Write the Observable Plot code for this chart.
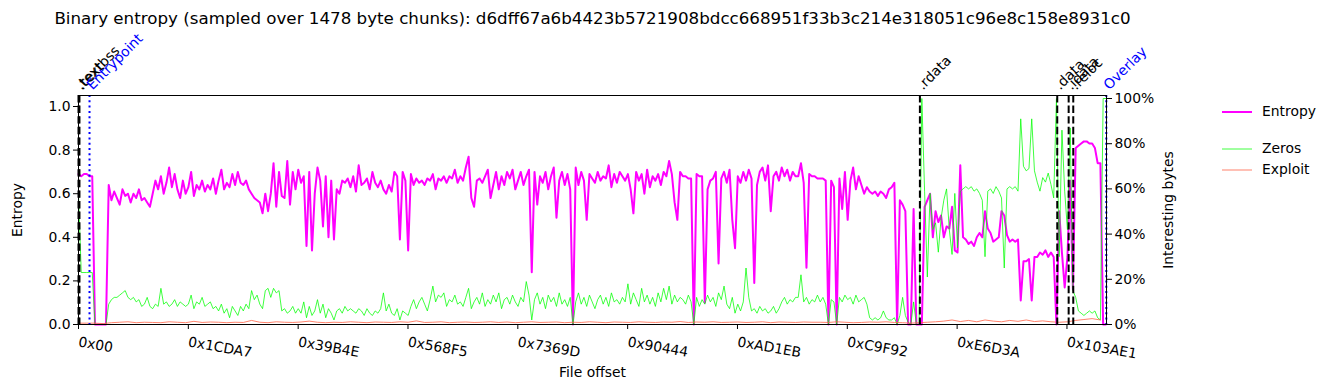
<!DOCTYPE html>
<html>
<head>
<meta charset="utf-8">
<script src="https://cdn.jsdelivr.net/npm/d3@7"></script>
<script src="https://cdn.jsdelivr.net/npm/@observablehq/plot@0.6"></script>
<style>
  body { margin: 0; background: white; font-family: "DejaVu Sans", sans-serif; }
  #wrap { position: relative; width: 1331px; height: 390px; }
  #legend { position: absolute; left: 1221px; top: 101px; font-size: 13.9px; color: #000; }
  #legend .row { position: absolute; left: 0; white-space: nowrap; height: 20px; line-height: 20px; }
  #legend svg { position: absolute; left: 0; top: 0; }
  #legend span { position: absolute; left: 41px; top: 0; }
</style>
</head>
<body>
<div id="wrap">
  <div id="chart"></div>
  <div id="legend"></div>
</div>
<script>
const titleText = "Binary entropy (sampled over 1478 byte chunks): d6dff67a6b4423b5721908bdcc668951f33b3c214e318051c96e8c158e8931c0";
const chunkSize = 1478;
const sampleStep = 2;      // one stored value every 2 chunks
const exploitStep = 6;     // one stored value every 6 chunks
const fileEnd = 1106200;

const xTickLabels = ["0x00","0x1CDA7","0x39B4E","0x568F5","0x7369D","0x90444","0xAD1EB","0xC9F92","0xE6D3A","0x103AE1"];
const leftTicks = [0, 0.2, 0.4, 0.6, 0.8, 1.0];
const rightTicks = [0, 20, 40, 60, 80, 100];

const sectionNames = [".textbss", ".text", ".rdata", ".data", ".idata", ".reloc"];
const sectionOffsets = [0, 1024, 905400, 1053200, 1065480, 1070430];
const markerNames = ["Entrypoint", "Overlay"];
const markerOffsets = [11850, 1106000];

const entropy = [
0.69,0.68,0.69,0.69,0.68,0.68,0,0,0,0,
0,0.64,0.57,0.61,0.58,0.55,0.62,0.59,0.60,0.56,
0.60,0.58,0.62,0.57,0.58,0.56,0.54,0.60,0.66,0.62,
0.68,0.60,0.65,0.72,0.63,0.69,0.62,0.58,0.66,0.60,
0.63,0.70,0.59,0.64,0.62,0.66,0.61,0.64,0.62,0.67,
0.60,0.66,0.71,0.62,0.65,0.63,0.69,0.64,0.70,0.65,
0.64,0.66,0.62,0.60,0.58,0.57,0.56,0.51,0.60,0.52,
0.60,0.74,0.54,0.70,0.59,0.58,0.75,0.55,0.70,0.62,
0.71,0.65,0.68,0.36,0.70,0.34,0.60,0.72,0.66,0.45,
0.68,0.40,0.66,0.39,0.62,0.60,0.66,0.65,0.67,0.63,
0.68,0.61,0.73,0.64,0.65,0.67,0.62,0.70,0.65,0.63,
0.66,0.62,0.60,0.64,0.61,0.70,0.68,0.39,0.70,0.66,
0.34,0.69,0.64,0.67,0.65,0.66,0.64,0.67,0.66,0.69,
0.62,0.67,0.66,0.68,0.65,0.68,0.67,0.71,0.65,0.68,
0.66,0.72,0.77,0.58,0.54,0.66,0.67,0.65,0.68,0.71,
0.58,0.64,0.70,0.62,0.68,0.64,0.70,0.67,0.71,0.62,
0.66,0.70,0.64,0.68,0.71,0.24,0.70,0.55,0.68,0.65,
0.70,0.62,0.68,0.72,0.49,0.66,0.70,0.64,0.69,0.62,
0,0.72,0.64,0.70,0.66,0.48,0.69,0.67,0.65,0.70,
0.66,0.68,0.67,0.73,0.63,0.69,0.65,0.70,0.68,0.66,
0.69,0.62,0.51,0.70,0.66,0.69,0.60,0.71,0.63,0.68,
0.66,0.69,0.64,0.70,0.68,0.75,0.69,0.56,0.48,0.70,
0.68,0.68,0.67,0.67,0,0.69,0.68,0.68,0.10,0.62,
0.66,0.67,0.70,0.28,0.67,0.70,0.65,0.71,0.48,0.35,
0.68,0.65,0.70,0.66,0.71,0.67,0.19,0.64,0.70,0.72,
0.66,0.73,0.52,0.68,0.70,0.66,0.72,0.68,0.71,0.66,
0.70,0.68,0.68,0.74,0.65,0.26,0.69,0.68,0.68,0.67,
0.67,0.67,0.66,0,0.66,0.63,0,0.67,0.53,0.70,
0.48,0.66,0.72,0.62,0.68,0.64,0.60,0.63,0.61,0.60,
0.61,0.59,0.61,0.60,0.58,0.62,0.63,0.65,0,0.57,
0.55,0.52,0,0,0.53,0,0,0,0.54,0.57,
0.60,0.40,0.52,0.47,0.50,0.40,0.45,0.44,0.54,0.34,
0.33,0.73,0.40,0.39,0.37,0.38,0.36,0.40,0.42,0.40,
0.52,0.44,0.42,0.38,0.39,0.40,0.52,0.50,0.41,0.38,
0.39,0.38,0.39,0.11,0.29,0.29,0.30,0.11,0.31,0.31,
0.33,0.32,0.34,0.31,0.33,0.31,0,0.52,0.33,0.17,
0.31,0.66,0.16,0.81,0.82,0.83,0.84,0.84,0.83,0.83,
0.81,0.74,0.74,0,0
];

const zeros = [
0.57,0.23,0.23,0.23,0.23,0.23,0,0,0,0,
0,0.09,0.11,0.12,0.12,0.13,0.14,0.15,0.12,0.11,
0.12,0.10,0.11,0.08,0.09,0.12,0.08,0.07,0.09,0.08,
0.16,0.09,0.10,0.08,0.09,0.11,0.08,0.10,0.09,0.08,
0.09,0.13,0.07,0.10,0.09,0.12,0.08,0.09,0.10,0.07,
0.08,0.06,0.09,0.05,0.07,0.03,0.08,0.06,0.04,0.08,
0.06,0.09,0.07,0.15,0.11,0.13,0.09,0.07,0.15,0.16,
0.12,0.16,0.14,0.15,0.06,0.07,0.05,0.06,0.08,0.05,
0.07,0.05,0.10,0.03,0.08,0.04,0.06,0.11,0.05,0.09,
0.03,0.07,0.05,0.02,0.06,0.07,0.05,0.08,0.06,0.07,
0.06,0.05,0.07,0.06,0.04,0.07,0.05,0.04,0.06,0.05,
0.07,0.14,0.06,0.09,0.05,0.04,0.07,0.02,0.06,0.05,
0.04,0.08,0.11,0.07,0.10,0.12,0.09,0.06,0.11,0.17,
0.10,0.13,0.12,0.14,0.08,0.11,0.10,0.13,0.09,0.10,
0.08,0.12,0.16,0.07,0.10,0.12,0.09,0.14,0.08,0.11,
0.09,0.13,0.10,0.14,0.07,0.11,0.12,0.09,0.13,0.10,
0.08,0.12,0.10,0.19,0.13,0.02,0.11,0.14,0.09,0.12,
0.07,0.13,0.10,0.12,0.08,0.14,0.09,0.11,0.08,0.12,
0,0.10,0.14,0.09,0.12,0.08,0.13,0.10,0.07,0.11,
0.13,0.09,0.12,0.08,0.14,0.10,0.11,0.09,0.12,0.10,
0.18,0.09,0.14,0.11,0.08,0.16,0.10,0.13,0.09,0.12,
0.08,0.14,0.10,0.16,0.11,0.17,0.09,0.13,0.10,0.12,
0.11,0.09,0.13,0.10,0,0.12,0.08,0.11,0.09,0.13,
0.10,0.12,0.08,0.14,0.11,0.17,0.09,0.07,0.12,0.05,
0.09,0.06,0.10,0.25,0.12,0.06,0.07,0.05,0.08,0.06,
0.07,0.05,0.06,0.08,0.05,0.07,0.10,0.12,0.09,0.11,
0.10,0.12,0.12,0.22,0.10,0.12,0.09,0.11,0.10,0.13,
0.10,0.12,0.09,0,0.11,0.10,0,0.12,0.10,0.13,
0.11,0.12,0.09,0.13,0.10,0.11,0.12,0.09,0.03,0.02,
0.03,0.02,0.03,0.06,0.03,0.02,0.02,0.03,0,0.04,
0.12,0.04,0.01,0,0.10,0,0,1.0,0.59,0.21,
0.58,0.42,0.45,0.32,0.47,0.55,0.60,0.42,0.31,0.58,
0.34,0.59,0.60,0.61,0.60,0.61,0.59,0.60,0.58,0.55,
0.30,0.59,0.60,0.58,0.61,0.59,0.56,0.25,0.60,0.61,
0.60,0.61,0.59,0.91,0.70,0.68,0.69,0.91,0.68,0.63,
0.59,0.65,0.63,0.67,0.62,0.56,1.0,0.30,0.86,0.59,
0.42,0.87,0.15,0.12,0.06,0.05,0.04,0.05,0.06,0.05,
0.06,0.03,0.02,1.0,1.0
];

const exploit = [
0.006,0.006,0.006,0.004,0.008,0.010,0.012,0.008,0.010,0.009,
0.008,0.012,0.010,0.008,0.014,0.009,0.011,0.010,0.008,0.010,
0.009,0.018,0.010,0.008,0.012,0.010,0.009,0.011,0.015,0.010,
0.008,0.010,0.009,0.012,0.010,0.008,0.011,0.010,0.009,0.012,
0.010,0.016,0.009,0.010,0.012,0.008,0.010,0.011,0.009,0.010,
0.012,0.009,0.011,0.008,0.010,0.012,0.009,0.010,0.011,0.008,
0.010,0.009,0.012,0.010,0.008,0.011,0.010,0.009,0.012,0.010,
0.009,0.011,0.010,0.013,0.009,0.011,0.010,0.012,0.009,0.010,
0.011,0.009,0.010,0.012,0.008,0.011,0.010,0.009,0.011,0.010,
0.010,0.009,0.012,0.010,0.008,0.009,0.011,0.010,0.012,0.009,
0.008,0.006,0.008,0.010,0.012,0.015,0.020,0.013,0.018,0.012,
0.020,0.015,0.012,0.018,0.014,0.020,0.013,0.016,0.012,0.010,
0.012,0.018,0.022,0.026,0.020
];

// ---- build tables ----
const K = 226 / 218;   // right-axis (fraction) to left-axis units
const mainRows = entropy.map((e, i) => ({offset: i * sampleStep * chunkSize, entropy: e, zeros: zeros[i]}));
const exploitRows = exploit.map((v, j) => ({offset: j * exploitStep * chunkSize, exploit: v}));
const xTicks = xTickLabels.map(s => parseInt(s, 16));
const sections = sectionNames.map((n, i) => ({name: n, offset: sectionOffsets[i]}));
const markers = markerNames.map((n, i) => ({name: n, offset: markerOffsets[i]}));

const plot = Plot.plot({
  width: 1331,
  height: 390,
  marginLeft: 78,
  marginRight: 225,
  marginTop: 95,
  marginBottom: 66,
  style: {fontFamily: "DejaVu Sans", fontSize: "13.9px", color: "black", background: "white", overflow: "visible"},
  x: {domain: [0, fileEnd]},
  y: {domain: [0, 1.0505]},
  marks: [
    Plot.line(mainRows, {x: "offset", y: "entropy", stroke: "#ff00ff", strokeWidth: 2}),
    Plot.line(mainRows, {x: "offset", y: d => d.zeros * K, stroke: "#00ff00", strokeOpacity: 0.75, strokeWidth: 1}),
    Plot.line(exploitRows, {x: "offset", y: d => d.exploit * K, stroke: "#ff6347", strokeOpacity: 0.8, strokeWidth: 1}),
    Plot.ruleX(sections, {x: "offset", stroke: "black", strokeWidth: 2, strokeDasharray: "7.4,3.2"}),
    Plot.ruleX(markers, {x: "offset", stroke: "blue", strokeWidth: 2, strokeDasharray: "2,3.3"}),
    Plot.frame({stroke: "black", strokeWidth: 1}),
    Plot.axisY({ticks: leftTicks, tickFormat: d3.format(".1f"), tickSize: 5, tickPadding: 3, label: null}),
    Plot.axisY({anchor: "right", ticks: rightTicks.map(p => p / 100 * K), tickFormat: d => Math.round(d / K * 100) + "%", tickSize: 5, tickPadding: 3, label: null}),
    Plot.axisX({ticks: xTicks, tickFormat: () => "", tickSize: 5, label: null}),
    Plot.text(xTickLabels, {x: d => parseInt(d, 16), text: d => d, frameAnchor: "bottom", dy: 12, dx: 1, rotate: 10, textAnchor: "start", lineAnchor: "top"}),
    Plot.text(sections, {x: "offset", text: "name", frameAnchor: "top", dy: -5, dx: 3, rotate: -45, textAnchor: "start", lineAnchor: "bottom", fill: "black"}),
    Plot.text(markers, {x: "offset", text: "name", frameAnchor: "top", dy: -5, dx: 3, rotate: -45, textAnchor: "start", lineAnchor: "bottom", fill: "blue"}),
    Plot.text([titleText], {text: d => d, frameAnchor: "top", dy: -77, fontSize: 16.7, textAnchor: "middle", lineAnchor: "middle"}),
    Plot.text(["Entropy"], {text: d => d, frameAnchor: "left", dx: -61, rotate: -90, textAnchor: "middle", lineAnchor: "middle"}),
    Plot.text(["Interesting bytes"], {text: d => d, frameAnchor: "right", dx: 62, rotate: -90, textAnchor: "middle", lineAnchor: "middle"}),
    Plot.text(["File offset"], {text: d => d, frameAnchor: "bottom", dy: 48, textAnchor: "middle", lineAnchor: "middle"})
  ]
});
document.getElementById("chart").appendChild(plot);

// legend
const legendItems = [
  {name: "Entropy", color: "#ff00ff", width: 2, opacity: 1, top: 0},
  {name: "Zeros", color: "#00ff00", width: 1, opacity: 0.75, top: 37},
  {name: "Exploit", color: "#ff6347", width: 1, opacity: 0.8, top: 58}
];
const lg = document.getElementById("legend");
for (const it of legendItems) {
  const row = document.createElement("div");
  row.className = "row";
  row.style.top = it.top + "px";
  row.innerHTML = `<svg width="32" height="20"><line x1="1" x2="31" y1="11" y2="11" stroke="${it.color}" stroke-width="${it.width}" stroke-opacity="${it.opacity}"/></svg><span>${it.name}</span>`;
  lg.appendChild(row);
}
</script>
</body>
</html>
